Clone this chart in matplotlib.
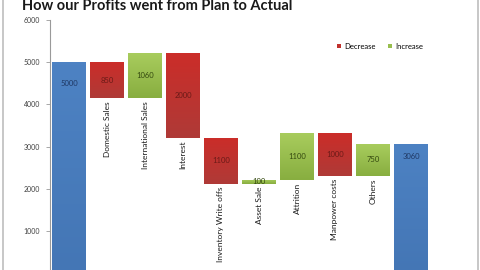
import matplotlib
matplotlib.use("Agg")
import matplotlib.pyplot as plt
import numpy as np
from matplotlib.colors import LinearSegmentedColormap
from matplotlib.patches import Patch
from matplotlib.lines import Line2D

title = "How our Profits went from Plan to Actual"
categories = ["Plan", "Domestic Sales", "International Sales", "Interest",
              "Inventory Write offs", "Asset Sale", "Attrition",
              "Manpower costs", "Others", "Actual"]
amounts = [5000, 850, 1060, 2000, 1100, 100, 1100, 1000, 750, 3060]
kinds = ["total", "decrease", "increase", "decrease", "decrease",
         "increase", "increase", "decrease", "increase", "total"]
y_ticks = [1000, 2000, 3000, 4000, 5000, 6000]
legend_labels = ["Decrease", "Increase"]

plt.rcParams['font.family'] = ['Lato', 'DejaVu Sans']

styles = {
    "total":    dict(base="#4A7EBF", dark="#4476B5", light="#4D82C3", text="#1F3864"),
    "decrease": dict(base="#C0312D", dark="#AF3A37", light="#CB2D29", text="#6B1A17"),
    "increase": dict(base="#98BE4E", dark="#88AE40", light="#A8CC5D", text="#34490F"),
}

fig = plt.figure(figsize=(4.8, 2.7), dpi=100)
ax = fig.add_axes([50 / 480, -3 / 270, 380 / 480, 253 / 270])

# waterfall geometry from data
level = 0
bottoms, heights = [], []
for amt, k in zip(amounts, kinds):
    if k == "total":
        bottoms.append(0)
        heights.append(amt)
        level = amt
    elif k == "increase":
        bottoms.append(level)
        heights.append(amt)
        level += amt
    else:
        level -= amt
        bottoms.append(level)
        heights.append(amt)

x = np.arange(len(categories))
bars = ax.bar(x, heights, bottom=bottoms, width=0.87,
              color=[styles[k]["base"] for k in kinds], edgecolor="none", zorder=2)

grad = np.linspace(0, 1, 64).reshape(-1, 1)
for patch, k in zip(bars.patches, kinds):
    cm = LinearSegmentedColormap.from_list("g", [styles[k]["dark"], styles[k]["light"]])
    x0, y0 = patch.get_x(), patch.get_y()
    im = ax.imshow(grad, cmap=cm, aspect="auto", origin="lower",
                   extent=[x0, x0 + patch.get_width(), y0, y0 + patch.get_height()],
                   zorder=2.1)
    im.set_clip_path(patch)

ax.set_xlim(-0.5, len(categories) - 0.5)
ax.set_ylim(0, 6000)

# value labels
for i, (amt, k) in enumerate(zip(amounts, kinds)):
    if k == "total":
        yl = bottoms[i] + heights[i] - 0.1 * amt
    else:
        yl = bottoms[i] + heights[i] / 2
    ax.text(i, yl, f"{amt}", ha="center", va="center", fontsize=5.5,
            color=styles[k]["text"], zorder=3)

# category labels under floating bars
for i, (cat, k) in enumerate(zip(categories, kinds)):
    if k == "total":
        continue
    ax.text(i, bottoms[i] - 70, cat, rotation=90, ha="center", va="top",
            fontsize=6, color="#1a1a1a", zorder=3)

for s in ["top", "right", "bottom"]:
    ax.spines[s].set_visible(False)
ax.spines["left"].set_color("#9A9A9A")
ax.spines["left"].set_linewidth(0.8)
ax.set_xticks([])
ax.set_yticks(y_ticks)
ax.set_yticklabels([str(t) for t in y_ticks])
ax.tick_params(axis="y", direction="out", length=3, width=0.6, color="#9A9A9A",
               labelsize=5, labelcolor="#404040", pad=4)

handles = [Patch(facecolor=styles["decrease"]["base"]),
           Patch(facecolor=styles["increase"]["base"])]
ax.legend(handles, legend_labels, loc="center left", bbox_to_anchor=(0.745, 0.897),
          ncol=2, frameon=False, fontsize=5.5, handlelength=0.55, handleheight=0.55,
          handletextpad=0.4, columnspacing=1.6, borderpad=0)

fig.text(22 / 480, 1 - 9.5 / 270, title, fontsize=10.5, fontweight="bold",
         ha="left", va="baseline", color="#1a1a1a")

fig.add_artist(Line2D([2.5 / 480, 2.5 / 480], [0, 1], color="#BDBDBD", lw=1.2,
                      transform=fig.transFigure))
fig.add_artist(Line2D([477.5 / 480, 477.5 / 480], [0, 1], color="#BDBDBD", lw=1.2,
                      transform=fig.transFigure))

fig.savefig("out.png", dpi=100)
